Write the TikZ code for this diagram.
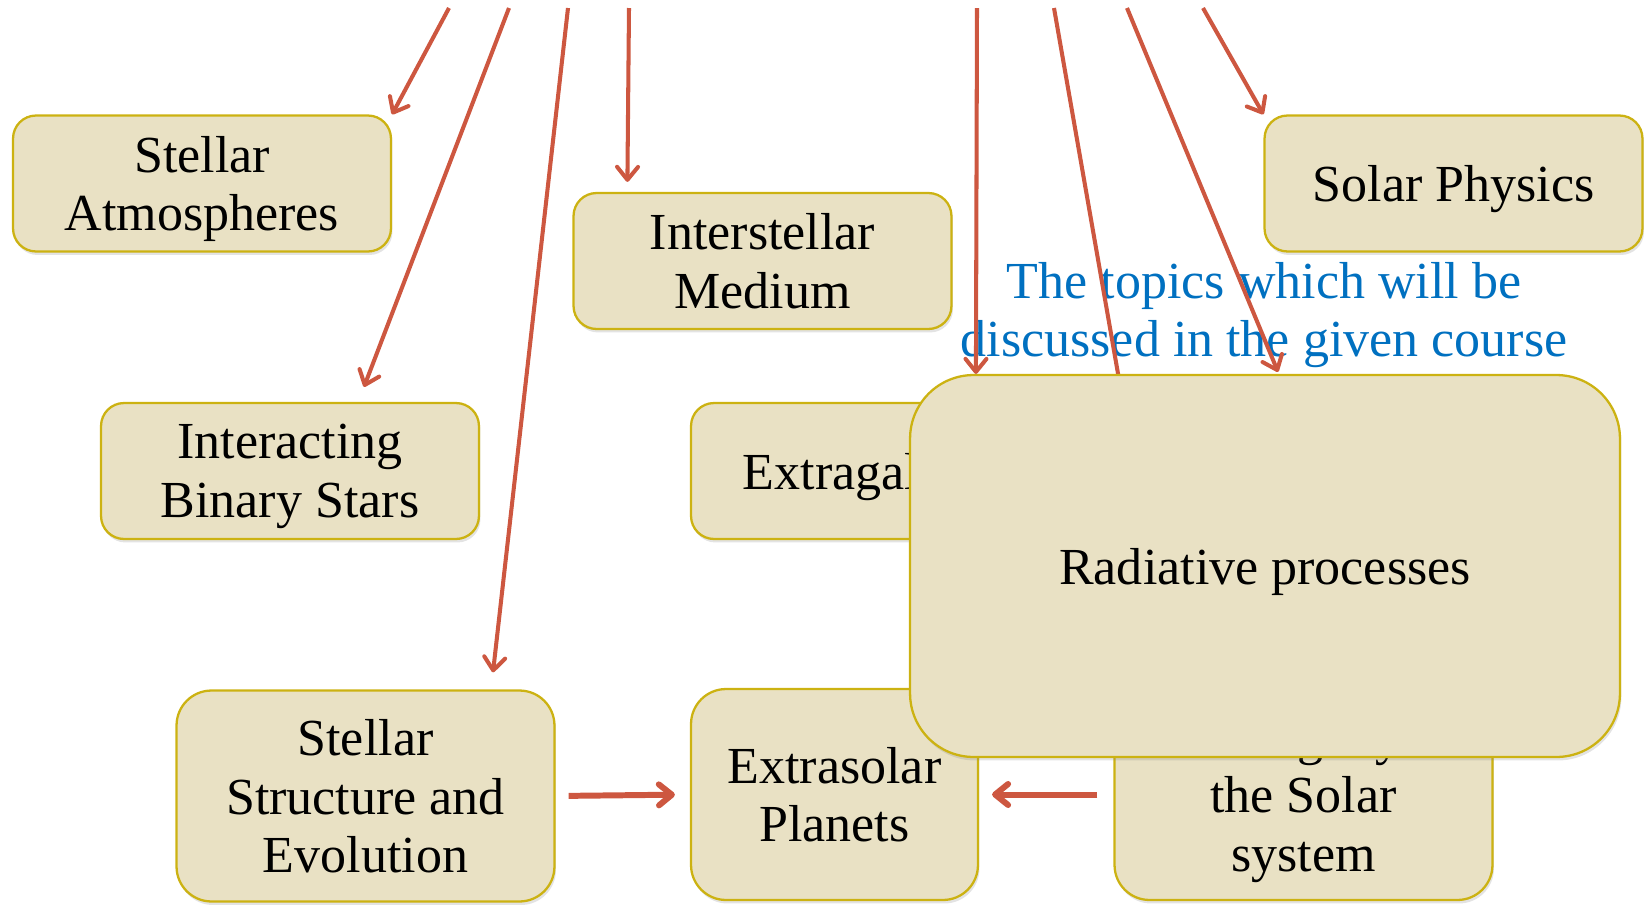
\documentclass[tikz,border=0pt]{standalone}
\usepackage{fontspec}
\setmainfont{Liberation Serif}
\usepackage{tikz}
\usetikzlibrary{arrows.meta,positioning,calc,shadows}
\definecolor{boxfill}{RGB}{233,225,196}
\definecolor{boxline}{RGB}{204,178,18}
\definecolor{arrowred}{RGB}{205,87,64}
\definecolor{noteblue}{RGB}{0,112,192}
\tikzstyle{topic} = [rectangle, rounded corners=0.46cm, minimum width=7.56cm, minimum height=2.72cm, inner sep=0pt, text depth=0pt, align=center, draw=boxline, line width=1.3pt, fill=boxfill, drop shadow={opacity=0.22, shadow xshift=0.03cm, shadow yshift=-0.07cm}, font=\fontsize{29.6}{33.4}\selectfont]
\tikzstyle{tall} = [minimum height=4.22cm, rounded corners=0.7cm]
\tikzstyle{arrow} = [draw=arrowred, line width=2.3pt, -{Straight Barb[length=0.26cm, width=0.42cm, round]}]

\begin{document}
\begin{tikzpicture}[x=0.02cm, y=-0.02cm]
    \useasboundingbox (0,0) rectangle (1644,904);

    % course topics
    \node[topic] (atm) at (202,183.5) {Stellar\\Atmospheres};
    \node[topic] (ism) at (762.5,261) {Interstellar\\Medium};
    \node[topic] (sol) at (1453.5,183.5) {Solar Physics};
    \node[topic] (ibs) at (290,471) {Interacting\\Binary Stars};
    \node[topic] (exg) at (880,471) {Extragalactic};
    \node[topic, tall] (sse) at (365.5,796) {Stellar\\Structure and\\Evolution};
    \node[topic, tall, minimum width=5.74cm] (esp) at (834.5,794.5) {Extrasolar\\Planets};
    \node[topic, tall] (css) at (1303.5,794.5) {Cosmogony of\\the Solar\\system};

    \node[text=noteblue, align=center, text depth=0pt, font=\fontsize{29.6}{33.4}\selectfont] (note) at (1264,309.5) {The topics which will be\\discussed in the given course};

    % arrows from the top
    \foreach \x [count=\i] in {449,509,568,629,977,1054,1127,1203}
        \coordinate (t\i) at (\x,8);

    \draw[arrow] (t1) -- (atm.north east);
    \draw[arrow] (t2) -- ($(ibs.north)+(74,-15)$);
    \draw[arrow] (t3) -- ($(sse.north)+(127.5,-17)$);
    \draw[arrow] (t4) -- ($(ism.north west)+(55,-10)$);
    \draw[arrow] (t6) -- ($(css.north west)+(57,-15)$);
    \draw[arrow] (t8) -- (sol.north west);

    \draw[arrow, line width=3.4pt, shorten <=0.26cm, shorten >=0.3cm] (sse.east) -- (esp.west);
    \draw[arrow, line width=3.4pt, shorten <=0.32cm, shorten >=0.26cm] (css.west) -- (esp.east);

    \node[topic, minimum width=14.2cm, minimum height=7.64cm, rounded corners=1.27cm] (rad) at (1265,566) {Radiative processes};

    \draw[arrow] (t5) -- ($(rad.north west)+(67,0)$);
    \draw[arrow] (t7) -- ($(rad.north)+(13,-2)$);
\end{tikzpicture}
\end{document}
